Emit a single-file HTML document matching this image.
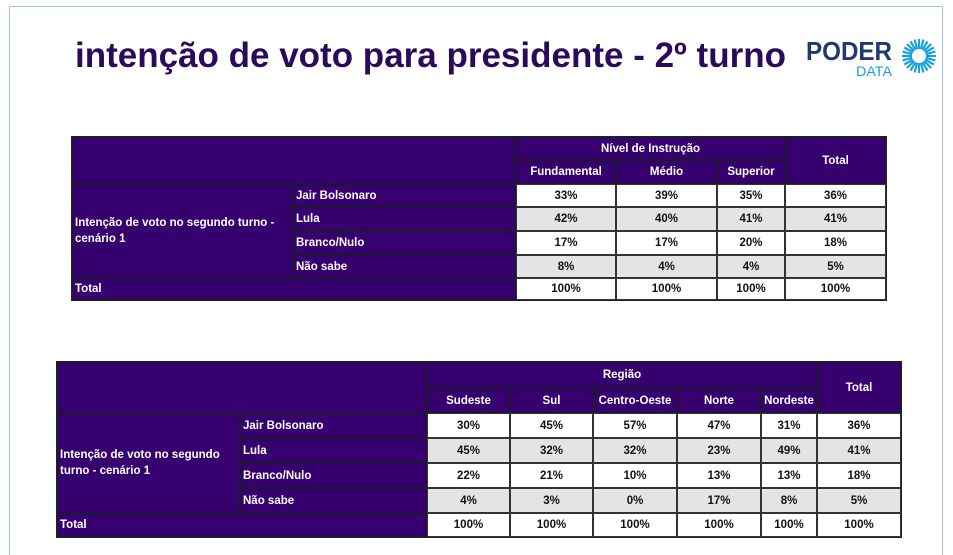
<!DOCTYPE html>
<html><head><meta charset="utf-8">
<style>
html,body{margin:0;width:953px;height:555px;overflow:hidden;}
body{background:#fff;position:relative;font-family:"Liberation Sans",sans-serif;}
#wrap{position:absolute;left:0;top:0;width:953px;height:555px;overflow:hidden;}
#frame{position:absolute;left:9px;top:6px;width:932px;height:548px;border:1px solid #9dc3e6;border-bottom:none;}
#title{position:absolute;left:75px;top:36px;font-size:35px;font-weight:bold;color:#2b0a5a;white-space:nowrap;}
#logo{position:absolute;left:806px;top:36px;}
.c{position:absolute;box-sizing:border-box;font-size:11.5px;font-weight:bold;display:flex;align-items:center;overflow:hidden;white-space:nowrap;}
.h{background:#36006f;color:#fff;border:1px solid #1a1a2a;}
.d{color:#111;justify-content:center;border:1px solid #333;}
.ctr{justify-content:center;}
.lab{padding-left:2px;}
</style></head><body>
<div id="wrap">
<div id="frame"></div>
<div id="title">intenção de voto para presidente - 2º turno</div>
<div id="logo">
<svg width="135" height="42" viewBox="0 0 135 42">
<text x="0" y="24" font-family="Liberation Sans" font-weight="bold" font-size="26" fill="#1f3a6e" textLength="86" lengthAdjust="spacingAndGlyphs">PODER</text>
<text x="50" y="40" font-family="Liberation Sans" font-size="14" fill="#1aa0e0" textLength="36" lengthAdjust="spacingAndGlyphs">DATA</text>
<g id="sun" stroke="#1aa0e0" stroke-width="2.2"></g>
</svg></div>
<div id="t1"></div><div id="t2"></div>
</div>
<script>
const rowLabels=["Jair Bolsonaro","Lula","Branco/Nulo","Não sabe"];
const t1Cols=["Fundamental","Médio","Superior"];
const t1Vals=[["33%","39%","35%","36%"],["42%","40%","41%","41%"],["17%","17%","20%","18%"],["8%","4%","4%","5%"]];
const t2Cols=["Sudeste","Sul","Centro-Oeste","Norte","Nordeste"];
const t2Vals=[["30%","45%","57%","47%","31%","36%"],["45%","32%","32%","23%","49%","41%"],["22%","21%","10%","13%","13%","18%"],["4%","3%","0%","17%","8%","5%"]];

const sun=document.getElementById('sun');
for(let i=0;i<24;i++){const a=i*Math.PI/12;const l=document.createElementNS('http://www.w3.org/2000/svg','line');
l.setAttribute('x1',113+7*Math.cos(a));l.setAttribute('y1',20+7*Math.sin(a));l.setAttribute('x2',113+17*Math.cos(a));l.setAttribute('y2',20+17*Math.sin(a));


sun.appendChild(l);}

function cell(par,x,y,w,h,cls,txt,name){const d=document.createElement('div');d.className='c '+cls;
d.style.left=x+'px';d.style.top=y+'px';d.style.width=w+'px';d.style.height=h+'px';d.textContent=txt;


par.appendChild(d);return d;}

function build(id,colX,rowY,cols,vals,group,lab){
  const p=document.getElementById(id);const L=colX[0],R=colX[colX.length-1];
  const n=cols.length;
  const b=document.createElement('div');b.style.cssText=`position:absolute;left:${L-1}px;top:${rowY[0]-1}px;width:${R-L+2}px;height:${rowY[rowY.length-1]-rowY[0]+2}px;background:#222;`;
  
  
  p.appendChild(b);
  cell(p,L,rowY[0],colX[2]-L,rowY[2]-rowY[0],'h','',id+'-corner');
  cell(p,colX[2],rowY[0],colX[2+n]-colX[2],rowY[1]-rowY[0],'h ctr',group,id+'-group-header');
  cols.forEach((c,i)=>cell(p,colX[2+i],rowY[1],colX[3+i]-colX[2+i],rowY[2]-rowY[1],'h ctr',c,'col-header-'+c.toLowerCase()));
  cell(p,colX[2+n],rowY[0],R-colX[2+n],rowY[2]-rowY[0],'h ctr','Total',id+'-total-header');
  const lc=cell(p,L,rowY[2],colX[1]-L,rowY[6]-rowY[2],'h lab','',id+'-question-label');
  lc.style.whiteSpace='normal';lc.style.lineHeight='16px';lc.innerHTML=lab;
  rowLabels.forEach((r,j)=>{
    cell(p,colX[1],rowY[2+j],colX[2]-colX[1],rowY[3+j]-rowY[2+j],'h lab',r,'row-label-'+j);
    vals[j].forEach((v,i)=>{const d=cell(p,colX[2+i],rowY[2+j],colX[3+i]-colX[2+i],rowY[3+j]-rowY[2+j],'d',v,'value-cell');
      d.style.background=j%2?'#e4e4e4':'#fff';});
  });
  cell(p,L,rowY[6],colX[2]-L,rowY[7]-rowY[6],'h lab','Total',id+'-total-row-label');
  for(let i=0;i<=n;i++){const d=cell(p,colX[2+i],rowY[6],colX[3+i]-colX[2+i],rowY[7]-rowY[6],'d','100%','total-cell');d.style.background='#fff';}
}
build('t1',[72,293,516,616,717,785,886],[137,160,184,207,231,255,278,300],t1Cols,t1Vals,'Nível de Instrução','Intenção de voto no segundo turno -<br>cenário 1');
build('t2',[57,240,427,510,593,677,761,817,901],[362,388,413,438,463,488,513,537],t2Cols,t2Vals,'Região','Intenção de voto no segundo<br>turno - cenário 1');
</script>
</body></html>
